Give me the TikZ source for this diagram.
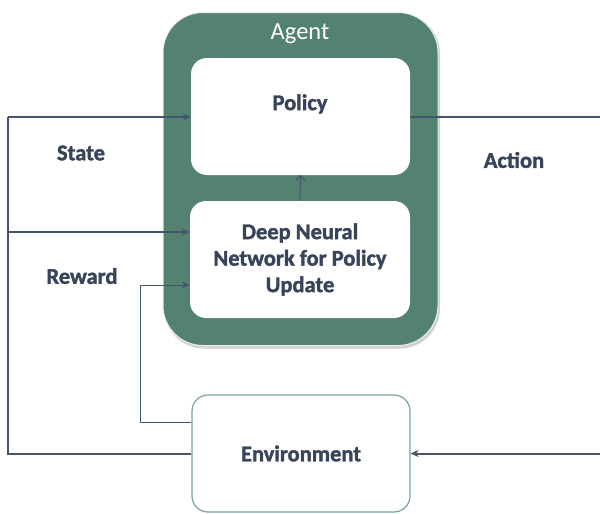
\documentclass[tikz,border=0pt]{standalone}
\usepackage{fontspec}
\setmainfont{Carlito}[BoldFeatures={FakeBold=1.6}]
\usetikzlibrary{arrows.meta,calc}
\definecolor{agentgreen}{RGB}{84,130,112}
\definecolor{linec}{RGB}{68,84,106}
\definecolor{envc}{RGB}{122,165,150}
\definecolor{txtc}{RGB}{56,68,90}
\begin{document}
\begin{tikzpicture}[x=1pt,y=-1pt,
  lbl/.style={text=txtc,font=\fontsize{22.5}{26.5}\selectfont\bfseries,inner sep=0pt,align=center},
  innerbox/.style={fill=white,rounded corners=16pt,inner sep=0pt,align=center},
  mainline/.style={draw=linec,line width=2pt},
  subline/.style={draw=linec,line width=1.3pt},
  >={Stealth[length=8pt,width=7pt]}]
\useasboundingbox (0,0) rectangle (600,514);
% agent shadow and body
\node[fill=black!18,rounded corners=40pt,minimum width=276pt,minimum height=335pt,inner sep=0pt] (agentshadow) at (302,181) {};
\node[fill=agentgreen,draw=white!85!gray,line width=1pt,rounded corners=40pt,minimum width=275pt,minimum height=333pt,inner sep=0pt] (agent) at (300.5,179) {};
\node[text=white,font=\fontsize{24.5}{28}\selectfont,inner sep=0pt] (agentlbl) at (300,34) {Agent};
\node[innerbox,minimum width=219pt,minimum height=117pt] (policy) at (300.5,116.5) {};
\node[lbl] (policytxt) at (300,104) {Policy};
\node[innerbox,minimum width=220pt,minimum height=117pt,lbl] (dnn) at (300,259.5) {Deep Neural\\Network for Policy\\Update};
\node[fill=white,draw=envc,line width=1.2pt,rounded corners=16pt,minimum width=218pt,minimum height=117pt,inner sep=0pt,lbl] (env) at (301,453.5) {Environment};
% labels
\node[lbl] (state) at (81,153) {State};
\node[lbl] (action) at (514,160) {Action};
\node[lbl] (reward) at (82,276) {Reward};
% coordinates
\coordinate (tl) at (8,117);
\coordinate (ml) at (8,232);
\coordinate (rc) at (140,285);
\coordinate (ar1) at (602,116.5);
\coordinate (ar2) at (602,453.5);
% connectors
\draw[mainline] (env.west) -| (tl);
\draw[subline,->] (tl) -- (policy.west |- tl);
\draw[subline,->] (ml) -- (dnn.west |- ml);
\draw[subline,line width=1pt,->] ([yshift=31pt]env.west) -| (rc) -- (dnn.west |- rc);
\draw[mainline,->] (policy.east) -- (ar1) -- (ar2) -- (env.east);
\draw[draw=linec,line width=1pt,-{Straight Barb[length=5pt,width=10pt]}] (dnn.north) -- (policy.south);
\end{tikzpicture}
\end{document}
